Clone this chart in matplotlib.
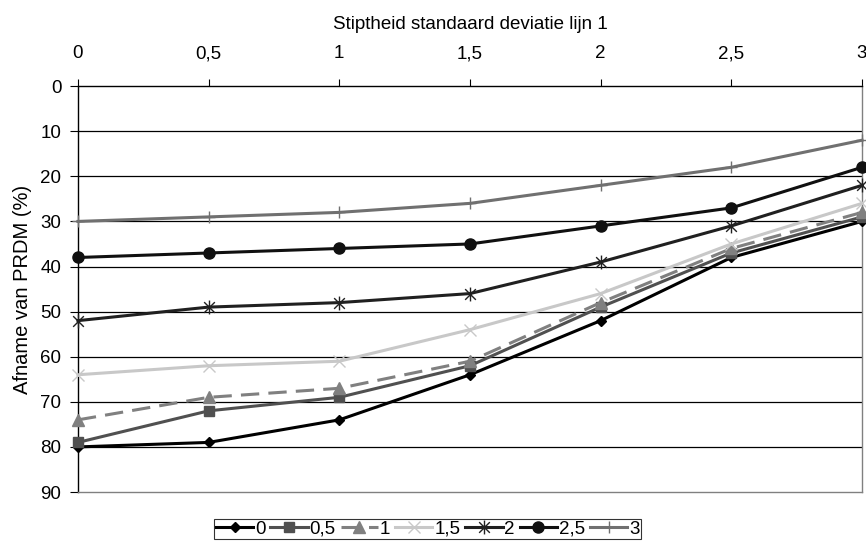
import numpy as np
import matplotlib.pyplot as plt
from matplotlib.path import Path

plt.rcParams['font.family'] = ['Liberation Sans', 'DejaVu Sans']

# data
x_vals = [0, 0.5, 1, 1.5, 2, 2.5, 3]
x_labels = ['0', '0,5', '1', '1,5', '2', '2,5', '3']
series_names = ['0', '0,5', '1', '1,5', '2', '2,5', '3']
s0 = [80, 79, 74, 64, 52, 38, 30]
s05 = [79, 72, 69, 62, 49, 37, 29]
s1 = [74, 69, 67, 61, 48, 36, 28]
s15 = [64, 62, 61, 54, 46, 35, 26]
s2 = [52, 49, 48, 46, 39, 31, 22]
s25 = [38, 37, 36, 35, 31, 27, 18]
s3 = [30, 29, 28, 26, 22, 18, 12]
y_ticks = [0, 10, 20, 30, 40, 50, 60, 70, 80, 90]

# asterisk marker: x plus vertical bar
star = Path([(-1, -1), (1, 1), (-1, 1), (1, -1), (0, -1.3), (0, 1.3)],
            [Path.MOVETO, Path.LINETO, Path.MOVETO, Path.LINETO, Path.MOVETO, Path.LINETO])

styles = [
    dict(color='#000000', marker='D', ms=5, ls='-'),
    dict(color='#505050', marker='s', ms=7, ls='-'),
    dict(color='#808080', marker='^', ms=8, ls=(0, (6, 3))),
    dict(color='#c8c8c8', marker='x', ms=9, ls='-', mew=1.0),
    dict(color='#202020', marker=star, ms=10, ls='-', mew=1.0),
    dict(color='#101010', marker='o', ms=8, ls='-'),
    dict(color='#707070', marker='+', ms=9, ls='-', mew=1.0),
]
data = [s0, s05, s1, s15, s2, s25, s3]

fs = 13.5

fig = plt.figure(figsize=(8.66, 5.45), dpi=100)
ax = fig.add_axes([0.090, 0.0972, 0.9054, 0.7448])

for y in y_ticks[1:-1]:
    ax.axhline(y, color='black', lw=0.9, zorder=1)

for name, d, st in zip(series_names, data, styles):
    ax.plot(x_vals, d, lw=2.2, label=name, zorder=3, clip_on=False, **st)

ax.set_xlim(0, 3)
ax.set_ylim(90, 0)
ax.set_xticks(x_vals)
ax.set_xticklabels(x_labels, fontsize=fs)
ax.set_yticks(y_ticks)
ax.set_yticklabels([str(v) for v in y_ticks], fontsize=fs)
ax.xaxis.tick_top()
ax.xaxis.set_label_position('top')
ax.tick_params(axis='x', length=5, width=0.8, pad=12)
ax.tick_params(axis='y', length=6, width=0.8, pad=6)
ax.set_xlabel('Stiptheid standaard deviatie lijn 1', fontsize=fs, labelpad=12)
ax.set_ylabel('Afname van PRDM (%)', fontsize=fs + 1, labelpad=6)

ax.spines['left'].set_color('black')
ax.spines['top'].set_color('black')
ax.spines['right'].set_color('#808080')
ax.spines['bottom'].set_color('#808080')
for s in ax.spines.values():
    s.set_linewidth(1.0)

leg = ax.legend(loc='center', bbox_to_anchor=(0.446, -0.091), ncol=7, fontsize=fs,
                frameon=True, fancybox=False, edgecolor='black', handlelength=2.0,
                handletextpad=0.1, columnspacing=0.25, borderpad=0.1, borderaxespad=0)
leg.get_frame().set_linewidth(0.8)

fig.savefig('out.png', dpi=100)
